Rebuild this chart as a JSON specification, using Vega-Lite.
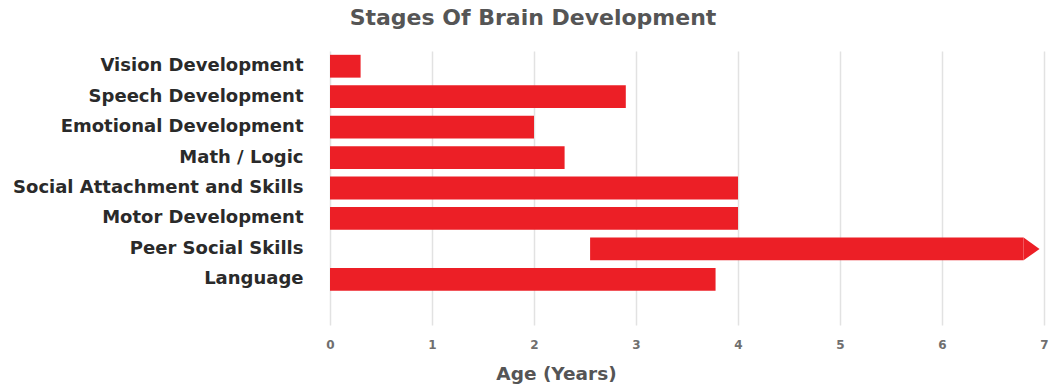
{
  "$schema": "https://vega.github.io/schema/vega-lite/v6.json",
  "autosize": {"type": "none"},
  "width": 714,
  "height": 274,
  "padding": {"left": 330, "top": 51, "right": 8, "bottom": 62},
  "background": "white",
  "config": {"view": {"stroke": null}},
  "title": {
    "text": "Stages Of Brain Development",
    "font": "DejaVu Sans",
    "fontSize": 22,
    "fontWeight": 700,
    "color": "#555555",
    "anchor": "middle",
    "dx": -154,
    "offset": 21
  },
  "data": {
    "values": [
      {"stage": "Vision Development", "start": 0, "end": 0.3, "ongoing": false},
      {"stage": "Speech Development", "start": 0, "end": 2.9, "ongoing": false},
      {"stage": "Emotional Development", "start": 0, "end": 2.0, "ongoing": false},
      {"stage": "Math / Logic", "start": 0, "end": 2.3, "ongoing": false},
      {"stage": "Social Attachment and Skills", "start": 0, "end": 4.0, "ongoing": false},
      {"stage": "Motor Development", "start": 0, "end": 4.0, "ongoing": false},
      {"stage": "Peer Social Skills", "start": 2.55, "end": 6.8, "ongoing": true},
      {"stage": "Language", "start": 0, "end": 3.78, "ongoing": false}
    ]
  },
  "encoding": {
    "y": {
      "field": "stage",
      "type": "nominal",
      "sort": null,
      "scale": {"paddingInner": 0.25, "paddingOuter": 0.625, "align": 0.1},
      "axis": {
        "title": null,
        "domain": false,
        "ticks": false,
        "grid": false,
        "labelPadding": 27,
        "labelFont": "DejaVu Sans",
        "labelFontSize": 18,
        "labelFontWeight": 700,
        "labelColor": "#2a2a2a",
        "labelLimit": 400
      }
    }
  },
  "layer": [
    {
      "mark": {"type": "bar", "color": "#EC1F26"},
      "encoding": {
        "x": {
          "field": "start",
          "type": "quantitative",
          "scale": {"domain": [0, 7], "nice": false},
          "axis": {
            "title": "Age (Years)",
            "values": [0, 1, 2, 3, 4, 5, 6, 7],
            "format": "d",
            "domain": false,
            "ticks": false,
            "grid": true,
            "gridColor": "#e2e2e2",
            "gridWidth": 1.5,
            "labelFlush": false,
            "labelPadding": 14,
            "labelFont": "DejaVu Sans",
            "labelFontSize": 12,
            "labelFontWeight": 700,
            "labelColor": "#6f6f6f",
            "titleFont": "DejaVu Sans",
            "titleFontSize": 18.5,
            "titleFontWeight": 700,
            "titleColor": "#555555",
            "titleX": 226,
            "titleY": 48,
            "titleBaseline": "middle",
            "titleAlign": "center"
          }
        },
        "x2": {"field": "end"}
      }
    },
    {
      "transform": [{"filter": "datum.ongoing"}],
      "mark": {
        "type": "point",
        "shape": "M0,-1L1.4,0L0,1Z",
        "filled": true,
        "opacity": 1,
        "color": "#EC1F26",
        "size": 520,
        "strokeWidth": 0
      },
      "encoding": {
        "x": {"field": "end", "type": "quantitative"}
      }
    }
  ]
}
